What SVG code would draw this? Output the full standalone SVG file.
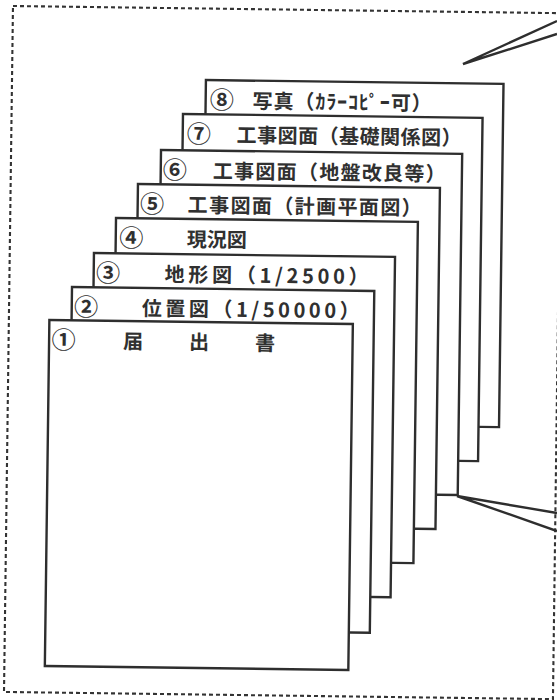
<svg xmlns="http://www.w3.org/2000/svg" width="557" height="700" viewBox="0 0 557 700">
<style>
.page{fill:#fff;stroke:#2e2e2e;stroke-width:2.4}
.frame{fill:none;stroke:#333;stroke-width:2.1;stroke-dasharray:4 3}
.t{font-family:"Noto Sans CJK JP","Noto Sans CJK SC",sans-serif;font-size:20px;font-weight:700;fill:#303030}
.n{font-family:"Noto Sans CJK JP","Noto Sans CJK SC",sans-serif;font-size:24px;font-weight:700;fill:#303030}
.lead{fill:none;stroke:#2e2e2e;stroke-width:2.4;stroke-linejoin:miter}
</style>
<rect width="557" height="700" fill="#fff"/>
<g transform="rotate(0.75 278 350)">
<rect class="frame" x="8.5" y="9.5" width="549" height="686"/>
<g id="page-8">
<rect class="page" x="202.4" y="81" width="297.6" height="343.2"/>
<text class="n" x="206.5" y="109.5">⑧</text>
<text class="t" x="249.4" y="108.5" textLength="179" lengthAdjust="spacing">写真（ｶﾗｰｺﾋﾟｰ可）</text>
</g>
<g id="page-7">
<rect class="page" x="179.9" y="115.2" width="299.6" height="343.3"/>
<text class="n" x="184" y="143.7">⑦</text>
<text class="t" x="233.9" y="142.7" textLength="225" lengthAdjust="spacing">工事図面（基礎関係図）</text>
</g>
<g id="page-6">
<rect class="page" x="158.4" y="151.5" width="301.2" height="341.2"/>
<text class="n" x="160.4" y="180">⑥</text>
<text class="t" x="210.4" y="179" textLength="233" lengthAdjust="spacing">工事図面（地盤改良等）</text>
</g>
<g id="page-5">
<rect class="page" x="135.8" y="185.8" width="302" height="341.2"/>
<text class="n" x="138.3" y="214.3">⑤</text>
<text class="t" x="185.8" y="213.3" textLength="234" lengthAdjust="spacing">工事図面（計画平面図）</text>
</g>
<g id="page-4">
<rect class="page" x="114.3" y="220.1" width="301.9" height="341.2"/>
<text class="n" x="117.8" y="248.6">④</text>
<text class="t" x="185.3" y="247.6" textLength="60" lengthAdjust="spacing">現況図</text>
</g>
<g id="page-3">
<rect class="page" x="92.7" y="255.4" width="301.1" height="340.3"/>
<text class="n" x="95.2" y="283.9">③</text>
<text class="t" x="163.7" y="282.9" textLength="204" lengthAdjust="spacing">地形図（1/2500）</text>
</g>
<g id="page-2">
<rect class="page" x="71.2" y="289.7" width="302.3" height="341.8"/>
<text class="n" x="73.7" y="318.2">②</text>
<text class="t" x="141.2" y="317.2" textLength="218" lengthAdjust="spacing">位置図（1/50000）</text>
</g>
<g id="page-1">
<rect class="page" x="49" y="323" width="303.5" height="346"/>
<text class="n" x="51.5" y="351.5">①</text>
<text class="t" x="123 189 255" y="350.5">届出書</text>
</g>
</g>
<g id="connectors">
<polyline class="lead" points="557,21 463,64 557,34"/>
<polyline class="lead" points="557,513 457,496 557,531"/>
</g>
</svg>
